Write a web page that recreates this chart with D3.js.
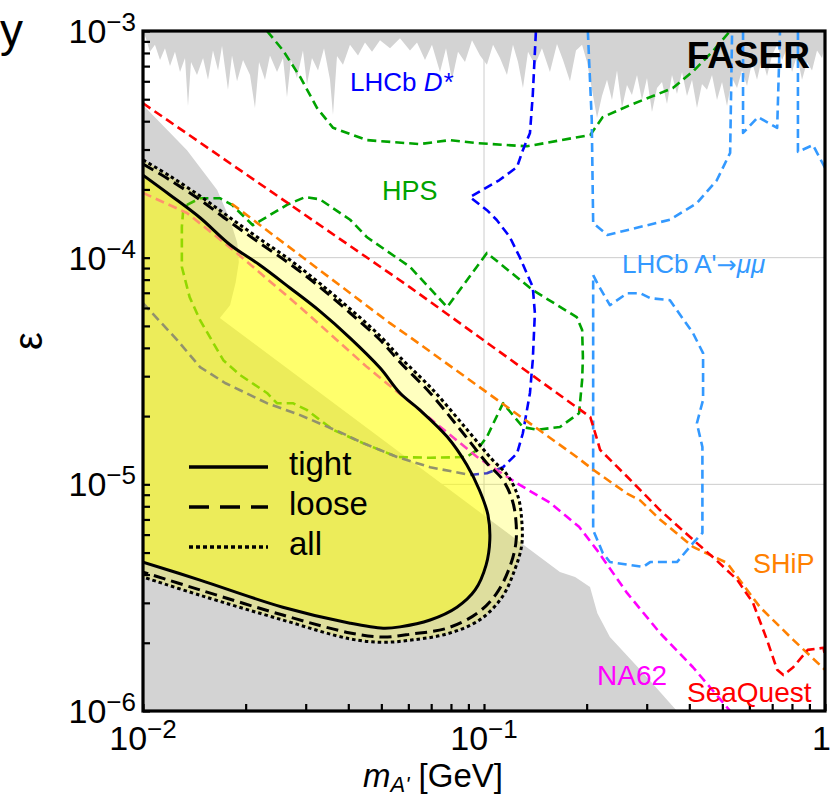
<!DOCTYPE html>
<html><head><meta charset="utf-8">
<script src="https://cdn.jsdelivr.net/npm/d3@7"></script>
<style>body{margin:0;background:#fff}svg{display:block}</style>
</head><body><svg id="c" width="831" height="797" font-family="Liberation Sans, Arial, Helvetica, sans-serif"></svg>
<script>
// ---------------- data (mass in GeV, epsilon) ----------------
const xMajorTicks = [0.01, 0.1, 1];
const yMajorTicks = [1e-6, 1e-5, 1e-4, 1e-3];
const xTickLabels = [["10","−2"],["10","−1"],["1",""]];
const yTickLabels = [["10","−6"],["10","−5"],["10","−4"],["10","−3"]];
const gridX = [0.1];
const gridY = [1e-5, 1e-4];

const topExcluded = [[0.01,1e-3],[0.0102,9.3e-4],[0.01048,8.1e-4],[0.01084,8.7e-4],[0.01122,7.45e-4],[0.0116,8.4e-4],[0.012,7.0e-4],[0.01241,8.1e-4],[0.01284,6.6e-4],[0.01328,7.6e-4],[0.01355,4.67e-4],[0.01383,7.3e-4],[0.0144,6.4e-4],[0.015,7.6e-4],[0.01551,6.1e-4],[0.01604,8.2e-4],[0.0166,6.7e-4],[0.01705,8.6e-4],[0.01775,5.5e-4],[0.01824,7.8e-4],[0.01887,6.0e-4],[0.01965,7.45e-4],[0.0206,6.4e-4],[0.0213,4.57e-4],[0.02189,7.3e-4],[0.02279,6.1e-4],[0.02357,7.8e-4],[0.02472,6.6e-4],[0.02574,7.6e-4],[0.02644,5.1e-4],[0.02716,7.45e-4],[0.02828,6.2e-4],[0.02945,8.2e-4],[0.03026,5.8e-4],[0.0313,7.6e-4],[0.0326,6.7e-4],[0.03395,8.4e-4],[0.03535,6.1e-4],[0.03607,4.26e-4],[0.03706,7.76e-4],[0.03859,7.1e-4],[0.04046,8.7e-4],[0.04271,7.8e-4],[0.04477,8.9e-4],[0.04695,8.1e-4],[0.04955,9.1e-4],[0.05302,8.4e-4],[0.05671,9.3e-4],[0.06067,8.2e-4],[0.06362,8.9e-4],[0.06714,7.45e-4],[0.07038,8.7e-4],[0.0743,6.6e-4],[0.07737,8.4e-4],[0.08057,6.1e-4],[0.0839,8.1e-4],[0.08796,7.3e-4],[0.09222,9.1e-4],[0.09734,7.8e-4],[0.102,7.1e-4],[0.1063,8.7e-4],[0.1114,7.6e-4],[0.1168,6.4e-4],[0.1216,8.7e-4],[0.1258,7.3e-4],[0.1301,5.6e-4],[0.1346,8.1e-4],[0.1411,7.1e-4],[0.1479,8.4e-4],[0.1561,6.6e-4],[0.1637,8.76e-4],[0.1705,7.45e-4],[0.1787,6.0e-4],[0.1861,8.2e-4],[0.1939,8.7e-4],[0.2005,7.3e-4],[0.2074,5.5e-4],[0.2145,4.13e-4],[0.2218,5.17e-4],[0.2295,6.1e-4],[0.2373,4.96e-4],[0.2455,6.7e-4],[0.2539,4.57e-4],[0.2626,5.78e-4],[0.2716,5.22e-4],[0.281,6.4e-4],[0.2906,4.96e-4],[0.3006,6.2e-4],[0.3109,4.39e-4],[0.3216,5.6e-4],[0.3327,5.96e-4],[0.3441,4.76e-4],[0.3559,6.4e-4],[0.3681,5.27e-4],[0.3808,6.6e-4],[0.3938,5.17e-4],[0.4074,6.1e-4],[0.4213,4.57e-4],[0.4358,5.84e-4],[0.4508,5.5e-4],[0.4663,6.4e-4],[0.4823,4.96e-4],[0.4989,5.96e-4],[0.516,4.67e-4],[0.5338,6.2e-4],[0.5521,5.6e-4],[0.5711,6.7e-4],[0.5907,5.72e-4],[0.6109,7.3e-4],[0.6319,6.1e-4],[0.6536,7.6e-4],[0.6761,6.33e-4],[0.6993,7.8e-4],[0.7233,8.7e-4],[0.7482,7.45e-4],[0.7739,8.4e-4],[0.8004,6.6e-4],[0.8279,7.8e-4],[0.8563,6.1e-4],[0.8857,7.3e-4],[0.9161,6.7e-4],[0.9475,8.2e-4],[0.98,7.6e-4],[1,8.7e-4],[1,1e-3]];

const beamDump = [[0.01,4.71e-4],[0.01346,2.98e-4],[0.0165,1.99e-4],[0.018,1.47e-4],[0.0189,1.16e-4],[0.0191,9.55e-5],[0.0187,7.8e-5],[0.018,6.17e-5],[0.0168,5.42e-5],[0.167,4.1e-6],[0.185,3.9e-6],[0.2046,3.52e-6],[0.215,2.7e-6],[0.234,2.12e-6],[0.293,1.47e-6],[0.368,1e-6],[0.01,1e-6]];

const hpsUpper = [[0.0231,1e-3],[0.0257,8.24e-4],[0.0289,6.27e-4],[0.0324,4.57e-4],[0.0361,3.74e-4],[0.0454,3.30e-4],[0.0648,3.17e-4],[0.0794,3.30e-4],[0.0955,3.2e-4],[0.1337,3.1e-4],[0.205,3.48e-4],[0.223,4.17e-4],[0.268,4.71e-4],[0.358,5.6e-4],[0.41,6.63e-4],[0.469,8.15e-4],[0.527,1e-3]];

const hpsLower = [[0.01346,1.71e-4],[0.0147,1.83e-4],[0.0168,1.83e-4],[0.01824,1.71e-4],[0.021,1.39e-4],[0.02644,1.71e-4],[0.02985,1.85e-4],[0.033,1.81e-4],[0.0405,1.47e-4],[0.0454,1.23e-4],[0.0607,9.1e-5],[0.078,6.05e-5],[0.102,1.049e-4],[0.139,7.19e-5],[0.187,5.47e-5],[0.194,4.79e-5],[0.195,3.64e-5],[0.194,2.88e-5],[0.19,2.06e-5],[0.167,1.79e-5],[0.143,1.74e-5],[0.130,1.79e-5],[0.1137,2.28e-5],[0.102,1.62e-5],[0.0955,1.42e-5],[0.089,1.32e-5],[0.0695,1.31e-5],[0.0556,1.32e-5],[0.0442,1.52e-5],[0.0361,1.74e-5],[0.0302,2.13e-5],[0.0275,2.28e-5],[0.0247,2.28e-5],[0.0231,2.53e-5],[0.0193,3.03e-5],[0.0172,3.53e-5],[0.0147,5.3e-5],[0.0137,6.7e-5],[0.013,9.1e-5],[0.013,1.366e-4],[0.0131,1.575e-4],[0.01346,1.71e-4]];

const lhcbDstar = [[0.01,6.3e-5],[0.0126,4.33e-5],[0.0147,3.29e-5],[0.0174,2.8e-5],[0.0231,2.28e-5],[0.0289,2.02e-5],[0.0378,1.70e-5],[0.0442,1.52e-5],[0.0556,1.32e-5],[0.0695,1.19e-5],[0.091,1.10e-5],[0.102,1.12e-5],[0.1137,1.19e-5],[0.125,1.37e-5],[0.130,1.68e-5],[0.1364,2.53e-5],[0.139,3.53e-5],[0.141,5.7e-5],[0.139,7.42e-5],[0.1275,1.0e-4],[0.119,1.234e-4],[0.109,1.466e-4],[0.102,1.62e-4],[0.091,1.85e-4],[0.111,2.2e-4],[0.125,2.51e-4],[0.130,2.98e-4],[0.1364,3.55e-4],[0.139,5.22e-4],[0.142,1e-3]];

const lhcbMuMu1 = [[0.2016,1e-3],[0.207,4.06e-4],[0.209,1.42e-4],[0.23,1.26e-4],[0.351,1.47e-4],[0.421,1.74e-4],[0.482,2.2e-4],[0.527,2.9e-4],[0.534,1e-3]];
const lhcbMuMu2 = [[0.575,1e-3],[0.575,3.55e-4],[0.636,4.17e-4],[0.724,3.74e-4],[0.738,1e-3]];
const lhcbMuMu3 = [[0.833,1e-3],[0.833,2.93e-4],[0.922,3.14e-4],[1.0,2.49e-4]];
const lhcbMuMu4 = [[0.209,8.37e-5],[0.215,7.7e-5],[0.234,6.17e-5],[0.263,6.97e-5],[0.287,6.97e-5],[0.307,6.63e-5],[0.351,6.49e-5],[0.41,4.65e-5],[0.439,3.79e-5],[0.439,2.36e-5],[0.421,1.86e-5],[0.437,1.46e-5],[0.437,6.1e-6],[0.41,5.5e-6],[0.368,4.54e-6],[0.307,4.54e-6],[0.293,4.32e-6],[0.234,4.54e-6],[0.223,4.98e-6],[0.209,6.28e-6],[0.209,8.37e-5]];

const seaquest = [[0.01,4.8e-4],[0.0607,7.4e-5],[0.205,1.98e-5],[0.212,1.68e-5],[0.219,1.42e-5],[0.263,1.08e-5],[0.328,7.7e-6],[0.41,5.7e-6],[0.482,4.6e-6],[0.552,3.8e-6],[0.615,3.0e-6],[0.676,2.06e-6],[0.724,1.52e-6],[0.755,1.44e-6],[0.807,1.56e-6],[0.89,1.86e-6],[0.99,1.9e-6],[1.0,1.75e-6]];

const ship = [[0.0182,1.73e-4],[0.053,5.14e-5],[0.0607,4.46e-5],[0.187,1.32e-5],[0.209,1.16e-5],[0.263,9.1e-6],[0.287,8.5e-6],[0.328,7.0e-6],[0.41,5.3e-6],[0.516,4.5e-6],[0.645,2.87e-6],[0.807,2.06e-6],[1.0,1.52e-6]];

const na62 = [[0.01,1.93e-4],[0.01346,1.575e-4],[0.0184,1.08e-4],[0.0289,6.05e-5],[0.0454,3.29e-5],[0.0595,2.36e-5],[0.0955,1.32e-5],[0.125,1.01e-5],[0.156,8.3e-6],[0.19,6.5e-6],[0.215,5.1e-6],[0.263,3.31e-6],[0.328,2.21e-6],[0.41,1.56e-6],[0.527,1e-6]];

const faserTight = [[0.01,2.31e-4],[0.012,1.89e-4],[0.0147,1.50e-4],[0.018,1.14e-4],[0.022,9.28e-5],[0.027,7.35e-5],[0.033,5.81e-5],[0.0405,4.42e-5],[0.0496,3.26e-5],[0.0567,2.53e-5],[0.0648,2.13e-5],[0.078,1.62e-5],[0.089,1.22e-5],[0.097,9.42e-6],[0.1027,7.33e-6],[0.104,5.68e-6],[0.1014,4.4e-6],[0.0942,3.42e-6],[0.0833,2.87e-6],[0.0695,2.52e-6],[0.0567,2.35e-6],[0.0506,2.32e-6],[0.0405,2.44e-6],[0.0257,2.87e-6],[0.0147,3.78e-6],[0.01,4.54e-6]];

const faserLoose = [[0.01,2.59e-4],[0.012,2.2e-4],[0.0147,1.80e-4],[0.018,1.437e-4],[0.022,1.16e-4],[0.027,9.37e-5],[0.033,7.42e-5],[0.0405,5.7e-5],[0.0496,4.33e-5],[0.0567,3.46e-5],[0.0695,2.53e-5],[0.0869,1.68e-5],[0.102,1.24e-5],[0.1137,1.044e-5],[0.121,8.53e-6],[0.124,6.96e-6],[0.124,5.5e-6],[0.119,4.32e-6],[0.109,3.31e-6],[0.0955,2.7e-6],[0.078,2.32e-6],[0.0619,2.19e-6],[0.0506,2.12e-6],[0.0405,2.21e-6],[0.0257,2.65e-6],[0.0147,3.42e-6],[0.01,4.1e-6]];

const faserAll = [[0.01,2.70e-4],[0.012,2.29e-4],[0.0147,1.87e-4],[0.018,1.50e-4],[0.022,1.21e-4],[0.027,9.77e-5],[0.033,7.7e-5],[0.0405,5.94e-5],[0.0496,4.51e-5],[0.0567,3.64e-5],[0.071,2.6e-5],[0.089,1.75e-5],[0.1055,1.29e-5],[0.1176,1.088e-5],[0.126,8.77e-6],[0.129,6.96e-6],[0.129,5.39e-6],[0.123,4.19e-6],[0.113,3.18e-6],[0.097,2.52e-6],[0.078,2.19e-6],[0.0619,2.06e-6],[0.0506,2.01e-6],[0.0405,2.08e-6],[0.0257,2.52e-6],[0.0147,3.24e-6],[0.01,3.9e-6]];

const legendItems = ["tight","loose","all"];

// ---------------- drawing ----------------
const W = 831, H = 797;
const L = 143, R = 825, T = 31, B = 711;
const svg = d3.select("#c");
const x = d3.scaleLog().domain([0.01, 1]).range([L, R]);
const y = d3.scaleLog().domain([1e-6, 1e-3]).range([B, T]);
const line = d3.line().x(d => x(d[0])).y(d => y(d[1]));
const smooth = d3.line().x(d => x(d[0])).y(d => y(d[1])).curve(d3.curveCatmullRom.alpha(0.5));

svg.append("rect").attr("width", W).attr("height", H).attr("fill", "#fff");
svg.append("defs").append("clipPath").attr("id", "clip")
  .append("rect").attr("x", L).attr("y", T).attr("width", R - L).attr("height", B - T);
const plot = svg.append("g").attr("clip-path", "url(#clip)");

// grid
plot.selectAll(".gx").data(gridX).join("line").attr("x1", d => x(d)).attr("x2", d => x(d))
  .attr("y1", T).attr("y2", B).attr("stroke", "#cccccc").attr("stroke-width", 1);
plot.selectAll(".gy").data(gridY).join("line").attr("y1", d => y(d)).attr("y2", d => y(d))
  .attr("x1", L).attr("x2", R).attr("stroke", "#cccccc").attr("stroke-width", 1);

// excluded regions
plot.append("path").attr("d", line(topExcluded) + "Z").attr("fill", "#d3d3d3");
plot.append("path").attr("d", line(beamDump) + "Z").attr("fill", "#d3d3d3");

// sensitivity curves
const GREEN = "#00a300", BLUE = "#0000ff", LBLUE = "#3399ff", RED = "#ff0000", ORANGE = "#ff8000", MAG = "#ff00ff";
const curves = [
  [hpsUpper, GREEN], [hpsLower, GREEN], [lhcbDstar, BLUE],
  [lhcbMuMu1, LBLUE], [lhcbMuMu2, LBLUE], [lhcbMuMu3, LBLUE], [lhcbMuMu4, LBLUE],
  [na62, MAG], [ship, ORANGE], [seaquest, RED]
];
curves.forEach(([d, c]) => {
  plot.append("path").attr("d", line(d)).attr("fill", "none").attr("stroke", c)
    .attr("stroke-width", 2.6).attr("stroke-dasharray", "9,5").attr("stroke-linejoin", "round");
});

// FASER fills
plot.append("path").attr("d", smooth(faserAll) + "Z").attr("fill", "rgb(255,255,0)").attr("fill-opacity", 0.25);
plot.append("path").attr("d", smooth(faserTight) + "Z").attr("fill", "rgb(255,255,0)").attr("fill-opacity", 0.43);

// FASER contours
plot.append("path").attr("d", smooth(faserAll)).attr("fill", "none").attr("stroke", "#000")
  .attr("stroke-width", 3).attr("stroke-dasharray", "3.5,3");
plot.append("path").attr("d", smooth(faserLoose)).attr("fill", "none").attr("stroke", "#000")
  .attr("stroke-width", 3).attr("stroke-dasharray", "12,6");
plot.append("path").attr("d", smooth(faserTight)).attr("fill", "none").attr("stroke", "#000")
  .attr("stroke-width", 3);

// axes ticks
const minor = (lo, hi) => { const a = []; for (let e = lo; e < hi; e++) for (let k = 1; k <= 9; k++) a.push(k * Math.pow(10, e)); a.push(Math.pow(10, hi)); return a; };
const gL = svg.append("g").attr("transform", `translate(${L},0)`)
  .call(d3.axisLeft(y).tickValues(minor(-6, -3)).tickSize(-7).tickFormat(""));
const gB = svg.append("g").attr("transform", `translate(0,${B})`)
  .call(d3.axisBottom(x).tickValues(minor(-2, 0)).tickSize(-7).tickFormat(""));
[gL, gB].forEach(g => { g.select(".domain").remove(); g.selectAll("line").attr("stroke", "#000").attr("stroke-width", 2.2); });

// frame
svg.append("rect").attr("x", L).attr("y", T).attr("width", R - L).attr("height", B - T)
  .attr("fill", "none").attr("stroke", "#000").attr("stroke-width", 3.2);

// tick labels
yMajorTicks.forEach((v, i) => {
  const t = svg.append("text").attr("x", 136).attr("y", y(v) + 12).attr("text-anchor", "end").attr("font-size", 34);
  t.append("tspan").text(yTickLabels[i][0]);
  t.append("tspan").attr("dy", -12).attr("font-size", 26).text(yTickLabels[i][1]);
});
xMajorTicks.forEach((v, i) => {
  const last = i === xMajorTicks.length - 1;
  const t = svg.append("text").attr("x", last ? 831 : x(v)).attr("y", 750)
    .attr("text-anchor", last ? "end" : "middle").attr("font-size", 34);
  t.append("tspan").text(xTickLabels[i][0]);
  if (xTickLabels[i][1]) t.append("tspan").attr("dy", -12).attr("font-size", 26).text(xTickLabels[i][1]);
});

// axis titles
const xt = svg.append("text").attr("x", 363).attr("y", 787).attr("font-size", 33);
xt.append("tspan").attr("font-style", "italic").text("m");
xt.append("tspan").attr("font-style", "italic").attr("font-size", 22).attr("dy", 5).text("A'");
xt.append("tspan").attr("dy", -5).text(" [GeV]");
svg.append("text").attr("transform", "translate(42,341) rotate(-90)").attr("text-anchor", "middle")
  .attr("font-size", 40).text("ε");
svg.append("text").attr("x", 0).attr("y", 46).attr("font-size", 46).text("y");

// annotations
svg.append("text").attr("x", 810).attr("y", 68).attr("text-anchor", "end").attr("font-size", 37)
  .attr("font-weight", "bold").text("FASER");
const ld = svg.append("text").attr("x", 350).attr("y", 91).attr("font-size", 26).attr("fill", BLUE);
ld.append("tspan").text("LHCb ");
ld.append("tspan").attr("font-style", "italic").text("D*");
svg.append("text").attr("x", 382).attr("y", 200).attr("font-size", 27).attr("fill", GREEN).text("HPS");
const lm = svg.append("text").attr("x", 622).attr("y", 273).attr("font-size", 26).attr("fill", LBLUE);
lm.append("tspan").text("LHCb A'");
lm.append("tspan").attr("font-family", "DejaVu Sans").attr("font-size", 24).text("→");
lm.append("tspan").attr("font-style", "italic").text("μμ");
svg.append("text").attr("x", 753).attr("y", 573).attr("font-size", 27).attr("fill", ORANGE).text("SHiP");
svg.append("text").attr("x", 597).attr("y", 685).attr("font-size", 28).attr("fill", MAG).text("NA62");
svg.append("text").attr("x", 687).attr("y", 702).attr("font-size", 28).attr("fill", RED).text("SeaQuest");

// legend
const legDash = ["none", "20,11", "4,3"];
legendItems.forEach((name, i) => {
  const ly = 467 + i * 40;
  svg.append("line").attr("x1", 189).attr("x2", 268).attr("y1", ly).attr("y2", ly)
    .attr("stroke", "#000").attr("stroke-width", 3.5).attr("stroke-dasharray", legDash[i]);
  svg.append("text").attr("x", 289).attr("y", ly + 8).attr("font-size", 33).text(name);
});
</script></body></html>
